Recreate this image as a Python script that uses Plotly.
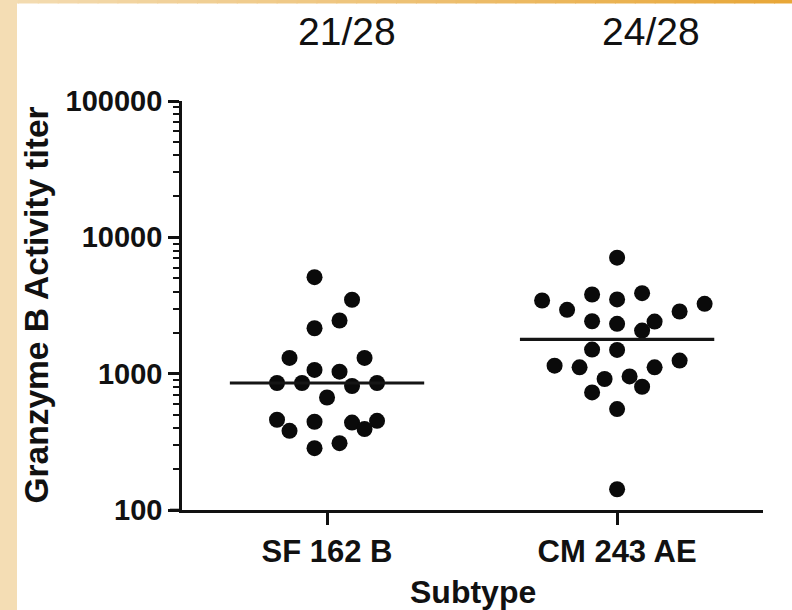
import plotly.graph_objects as go
import numpy as np

# ---- data ----
categories = ["SF 162 B", "CM 243 AE"]
fractions = ["21/28", "24/28"]

sf_values = [5105, 3483, 2454, 2153, 1304, 1304, 1065, 1035, 854, 854, 812, 854,
             669, 459, 381, 444, 438, 392, 451, 284, 309]
sf_cols = [-1, 2, 1, -1, -3, 3, -1, 1, -4, -2, 2, 4, 0, -4, -3, -1, 2, 3, 4, -1, 1]

cm_values = [7090, 3442, 2940, 3809, 3502, 3894, 2857, 3254, 2425, 2319, 2411, 2070,
             1501, 1494, 1145, 1113, 1247, 1113, 914, 955, 802, 729, 550, 142]
cm_cols = [0, -6, -4, -2, 0, 2, 5, 7, -2, 0, 3, 2, -2, 0, -5, -3, 5, 3, -1, 1, 2, -2, 0, 0]

ytick_vals = [100, 1000, 10000, 100000]
ytick_text = ["100", "1000", "10000", "100000"]

# ---- layout constants ----
W, H = 792, 610
L, R, T, B = 182, 29, 101, 100
PW, PH = W - L - R, H - T - B
STEP = 0.0431          # beeswarm column spacing (category units)
HALF = 0.335           # half width of the median bar
INK = "#111111"
AXW = 2.6

def px2paper_x(px):
    return (px - L) / PW

def px2paper_y(py):
    return (H - B - py) / PH

fig = go.Figure()

groups = [(sf_values, sf_cols), (cm_values, cm_cols)]
for i, (vals, cols) in enumerate(groups):
    xs = [i + c * STEP for c in cols]
    fig.add_trace(go.Scatter(
        x=xs, y=vals, mode="markers",
        marker=dict(size=16, color="#0a0a0a", line=dict(width=0)),
        showlegend=False, hoverinfo="y"))
    med = float(np.median(vals))
    fig.add_trace(go.Scatter(
        x=[i - HALF, i + HALF], y=[med, med], mode="lines",
        line=dict(color="#151515", width=3.2), showlegend=False, hoverinfo="skip"))

minor_vals = [k * 10 ** d for d in range(2, 5) for k in range(2, 10)]

fig.update_layout(
    width=W, height=H,
    margin=dict(l=L, r=R, t=T, b=B, autoexpand=False),
    paper_bgcolor="white", plot_bgcolor="white",
    font=dict(family="Liberation Sans, Arial", color=INK),
    xaxis=dict(
        range=[-0.5, 1.503], tickmode="array", tickvals=[0, 1], ticktext=categories,
        showline=True, linecolor=INK, linewidth=AXW, showgrid=False, zeroline=False,
        ticks="outside", ticklen=12, tickwidth=AXW, tickcolor=INK,
        tickfont=dict(family="Liberation Sans, Arial", size=31, color=INK, weight="bold"),
        fixedrange=True),
    yaxis=dict(
        type="log", range=[2, 5], tickmode="array", tickvals=ytick_vals, ticktext=ytick_text,
        showline=True, linecolor=INK, linewidth=AXW, showgrid=False, zeroline=False,
        ticks="outside", ticklen=11, tickwidth=AXW, tickcolor=INK,
        tickfont=dict(family="Liberation Sans, Arial", size=29, color=INK, weight="bold"),
        minor=dict(tickvals=minor_vals, ticks="outside", ticklen=6, tickwidth=2, tickcolor=INK,
                   showgrid=False),
        fixedrange=True),
)

# axis titles as annotations
fig.add_annotation(text="<b>Granzyme B Activity titer</b>", xref="paper", yref="paper",
                   x=px2paper_x(36), y=0.5, xanchor="center", yanchor="middle",
                   textangle=-90, showarrow=False,
                   font=dict(family="Liberation Sans, Arial", size=33.5, color=INK))
fig.add_annotation(text="<b>Subtype</b>", xref="paper", yref="paper",
                   x=0.5, y=px2paper_y(592), xanchor="center", yanchor="middle",
                   showarrow=False,
                   font=dict(family="Liberation Sans, Arial", size=32, color=INK))

# fraction labels above groups
frac_px = [347, 651]
for fpx, txt in zip(frac_px, fractions):
    fig.add_annotation(text=txt, xref="paper", yref="paper",
                       x=px2paper_x(fpx), y=px2paper_y(31), xanchor="center", yanchor="middle",
                       showarrow=False,
                       font=dict(family="Liberation Sans, Arial", size=39, color=INK))

shapes = []
# x-axis extension to the left of the y axis
shapes.append(dict(type="line", xref="paper", yref="paper",
                   x0=px2paper_x(170), x1=0, y0=0, y1=0,
                   line=dict(color=INK, width=AXW)))
# left beige strip
shapes.append(dict(type="rect", xref="paper", yref="paper", layer="below",
                   x0=px2paper_x(-2), x1=px2paper_x(17), y0=px2paper_y(H + 2), y1=px2paper_y(-2),
                   fillcolor="#F4DDB4", line=dict(width=0)))
# top gradient strip
c0 = np.array([0xF4, 0xDD, 0xB4])
c1 = np.array([0xE8, 0xA7, 0x38])
n = 40
for k in range(n):
    t = k / (n - 1)
    c = (c0 * (1 - t) + c1 * t).astype(int)
    shapes.append(dict(type="rect", xref="paper", yref="paper", layer="below",
                       x0=px2paper_x(-2 + k * (W + 4) / n), x1=px2paper_x(-2 + (k + 1) * (W + 4) / n + 1),
                       y0=px2paper_y(3.5), y1=px2paper_y(-2),
                       fillcolor="rgb(%d,%d,%d)" % tuple(c), line=dict(width=0)))
fig.update_layout(shapes=shapes)

fig.write_html("out.html")
